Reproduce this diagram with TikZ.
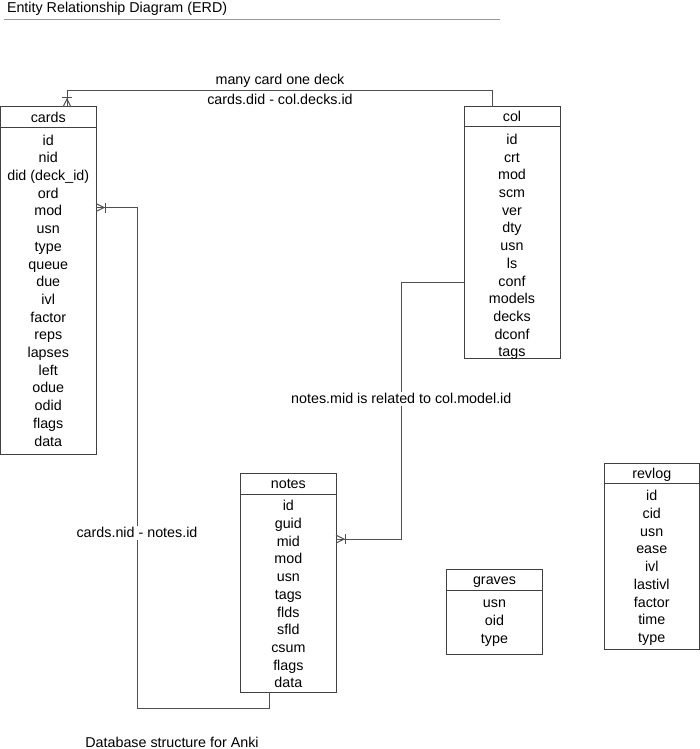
\documentclass[tikz,border=0pt]{standalone}
\usepackage{fontspec}
\setmainfont{Liberation Sans}
\definecolor{boxline}{HTML}{404040}
\definecolor{connline}{HTML}{505050}
\definecolor{ruleline}{HTML}{999999}
\tikzset{
  tbl/.style={draw=boxline, line width=1pt, rectangle, inner sep=0pt, outer sep=0pt, fill=white},
  tblline/.style={draw=boxline, line width=1pt},
  txt/.style={inner sep=0pt, outer sep=0pt, text height=10.2pt, text depth=0pt, font=\fontsize{14.3}{17}\selectfont, text=black},
  lbl/.style={txt},
  lblbg/.style={txt, fill=white, inner xsep=1pt, text depth=3pt, text height=11pt},
  conn/.style={draw=connline, line width=1pt},
  crowbar/.pic={
    \draw[conn] (0,-4) -- (8,0) -- (0,4);
    \draw[conn] (9,-5) -- (9,5);
  }
}
\newcommand\erdtable[8]{%
  \node[tbl, minimum width={#3-#2}, minimum height={#6-#4}, anchor=north west] (#1) at (#2,#4) {};
  \draw[tblline] (#1.west |- 0,#5) -- (#1.east |- 0,#5);
  \node[txt] (#1-t) at ({(#2+#3)/2},{(#4+#5)/2}) {#1};
  \foreach \r [count=\i] in {#8} \node[txt] (#1-\i) at ({(#2+#3)/2},{#7+(\i-1)*17.7}) {\r};
}
\begin{document}
\begin{tikzpicture}[x=1pt,y=-1pt]
\useasboundingbox (0,0) rectangle (700,749);
% title
\node[txt, anchor=base west] (title) at (7,12.5) {Entity Relationship Diagram (ERD)};
\coordinate (rule-l) at (3.5,19.5);
\coordinate (rule-r) at (500,19.5);
\draw[ruleline, line width=1pt] (rule-l) -- (rule-r);

% tables
\erdtable{cards}{0.5}{96}{107}{128}{454}{140}{id,nid,{did (deck\_id)},ord,mod,usn,type,queue,due,ivl,factor,reps,lapses,left,odue,odid,flags,data}
\erdtable{col}{464}{560}{106.7}{126.7}{358.7}{139.3}{id,crt,mod,scm,ver,dty,usn,ls,conf,models,decks,dconf,tags}
\erdtable{notes}{240.7}{336}{473.3}{494}{692.3}{505.7}{id,guid,mid,mod,usn,tags,flds,sfld,csum,flags,data}
\erdtable{graves}{446.7}{542.3}{569.3}{590}{654.3}{602.7}{usn,oid,type}
\erdtable{revlog}{604}{699.5}{463.3}{483.3}{649}{495.7}{id,cid,usn,ease,ivl,lastivl,factor,time,type}

% end and bend points of connectors
\coordinate (bend-top) at (67,90.7);
\coordinate (bend-cn) at (137,708);
\coordinate (bend-nc) at (401.3,0);
\coordinate (cards-end) at ([yshift=3.3pt]cards.east |- cards-5);
\coordinate (notes-end) at ([yshift=2pt]notes.east |- notes-3);
\coordinate (col-end) at ([yshift=-1.7pt]col.west |- col-9);

% connectors
\draw[conn] (492.7,0 |- col.north) |- (bend-top) -- (bend-top |- cards.north);
\draw[conn] (269,0 |- notes.south) |- (bend-cn) |- (cards-end);
\draw[conn] (col-end) -| (bend-nc |- notes-end) -- (notes-end);

% crow's feet
\pic[rotate=90] at (bend-top |- cards.north) {crowbar};
\pic at (cards-end) {crowbar};
\pic at (notes-end) {crowbar};

% labels
\node[lbl] (l1) at (280,79) {many card one deck};
\node[lbl] (l2) at (280,99) {cards.did - col.decks.id};
\node[lblbg] (l3) at (137,533) {cards.nid - notes.id};
\node[lblbg] (l4) at (401.3,399) {notes.mid is related to col.model.id};
\node[txt, anchor=base] (foot) at (172,747) {Database structure for Anki};
\end{tikzpicture}
\end{document}
